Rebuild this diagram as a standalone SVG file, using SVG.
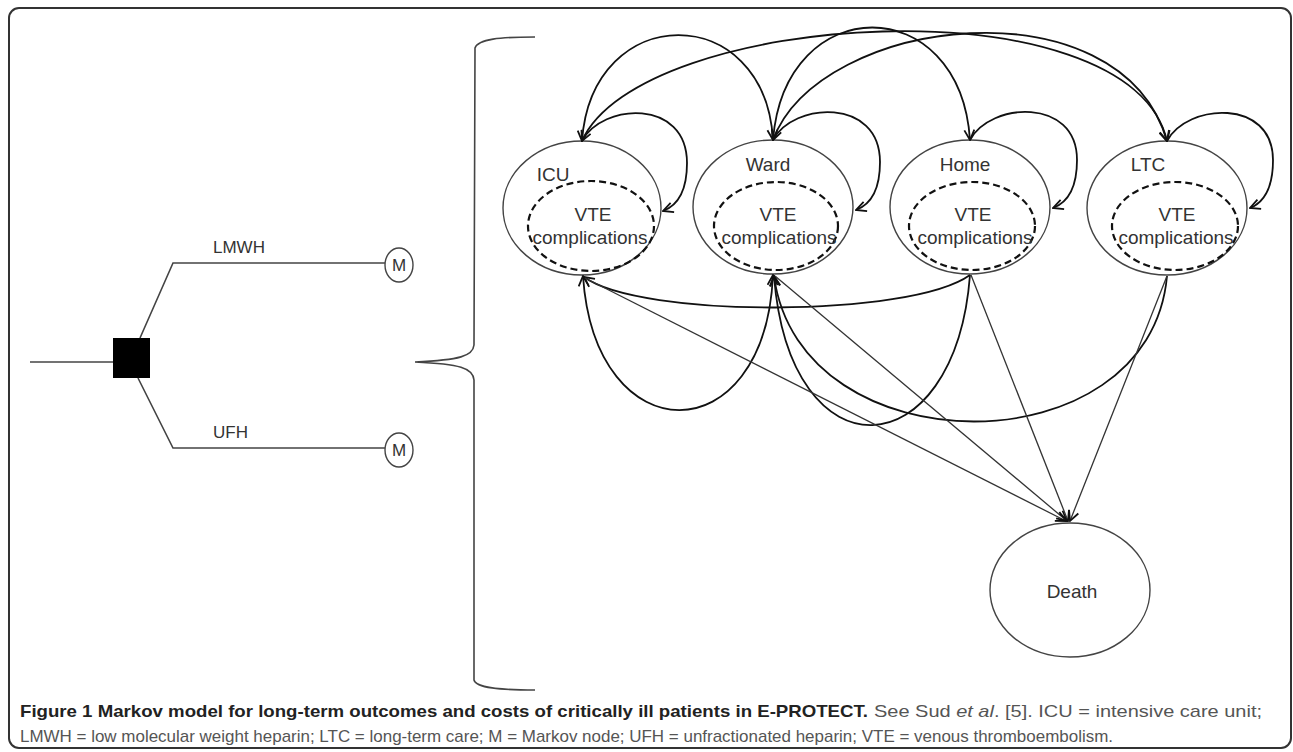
<svg xmlns="http://www.w3.org/2000/svg" width="1293" height="752" viewBox="0 0 1293 752">
<style>
.node{fill:none;stroke:#444;stroke-width:1.4}
.dash{fill:none;stroke:#111;stroke-width:2.2;stroke-dasharray:7 4}
.lbl{font-family:"Liberation Sans",Arial,sans-serif;font-size:19px;fill:#333;text-anchor:middle}
.tl{font-family:"Liberation Sans",Arial,sans-serif;font-size:17px;fill:#333}
.arc{fill:none;stroke:#111;stroke-width:1.8}
.ln{fill:none;stroke:#333;stroke-width:1.3}
.tree{fill:none;stroke:#444;stroke-width:1.6}
.cap{font-family:"Liberation Sans",Arial,sans-serif;font-size:17px}
</style>
<defs>
<marker id="arr" viewBox="0 0 12 12" refX="11" refY="6" markerWidth="12" markerHeight="12" markerUnits="userSpaceOnUse" orient="auto-start-reverse">
<path d="M1,1 L11,6 L1,11" fill="none" stroke="#111" stroke-width="1.8"/>
</marker>
</defs>
<rect x="9" y="8" width="1282" height="740" rx="10" fill="#fff" stroke="#333" stroke-width="2"/>

<g id="tree">
<path class="tree" d="M30,362 L113,362"/>
<rect x="113" y="338" width="37" height="40" fill="#000"/>
<path class="tree" d="M140,338 L173,263 L385,263"/>
<path class="tree" d="M138,378 L173,448 L385,448"/>
<text class="tl" x="213" y="253">LMWH</text>
<text class="tl" x="213" y="438">UFH</text>
</g>
<g id="m1"><ellipse class="node" cx="399" cy="265" rx="14" ry="17"/><text class="tl" x="399" y="271" text-anchor="middle">M</text></g>
<g id="m2"><ellipse class="node" cx="399" cy="450" rx="14" ry="17"/><text class="tl" x="399" y="456" text-anchor="middle">M</text></g>

<g id="brace">
<path class="tree" d="M535,37 C500,37 478,39 475,48 L474,345 C473,356 460,360 415,362 C460,364 473,368 474,380 L474,680 C476,688 500,690 535,690"/>
</g>

<g id="icu">
<ellipse class="node" cx="582" cy="208" rx="79" ry="67"/>
<ellipse class="dash" cx="591" cy="226" rx="63" ry="45"/>
<text class="lbl" x="553" y="181">ICU</text>
<text class="lbl" x="593" y="221">VTE</text>
<text class="lbl" x="590" y="244">complications</text>
</g>
<g id="ward">
<ellipse class="node" cx="773" cy="207" rx="80" ry="67"/>
<ellipse class="dash" cx="776" cy="226" rx="62" ry="44"/>
<text class="lbl" x="768" y="171">Ward</text>
<text class="lbl" x="778" y="221">VTE</text>
<text class="lbl" x="779" y="244">complications</text>
</g>
<g id="home">
<ellipse class="node" cx="970" cy="207" rx="80" ry="67"/>
<ellipse class="dash" cx="972" cy="226" rx="63" ry="44"/>
<text class="lbl" x="965" y="171">Home</text>
<text class="lbl" x="973" y="221">VTE</text>
<text class="lbl" x="975" y="244">complications</text>
</g>
<g id="ltc">
<ellipse class="node" cx="1167" cy="208" rx="80" ry="67"/>
<ellipse class="dash" cx="1175" cy="226" rx="63" ry="44"/>
<text class="lbl" x="1148" y="171">LTC</text>
<text class="lbl" x="1177" y="221">VTE</text>
<text class="lbl" x="1176" y="244">complications</text>
</g>
<g id="death">
<ellipse class="node" cx="1070" cy="590" rx="80" ry="67"/>
<text class="lbl" x="1072" y="598">Death</text>
</g>

<g id="connectors">
<!-- self loops -->
<path class="arc" marker-end="url(#arr)" d="M582,141 C602,103 687,98 687,163 C687,188 679,205 663,211"/>
<path class="arc" marker-end="url(#arr)" d="M773,140 C793,102 880,97 880,162 C880,187 872,204 856,210"/>
<path class="arc" marker-end="url(#arr)" d="M970,140 C990,102 1077,97 1077,160 C1077,185 1069,202 1053,208"/>
<path class="arc" marker-end="url(#arr)" d="M1167,141 C1187,103 1273,98 1273,160 C1273,185 1265,202 1250,208"/>
<!-- top arcs -->
<path class="arc" marker-start="url(#arr)" marker-end="url(#arr)" d="M582,141 C592,0 765,0 773,140"/>
<path class="arc" marker-end="url(#arr)" d="M773,140 C785,-10 960,-10 970,140"/>
<path class="arc" marker-start="url(#arr)" marker-end="url(#arr)" d="M582,141 C640,10 1130,-20 1167,141"/>
<path class="arc" marker-start="url(#arr)" marker-end="url(#arr)" d="M773,140 C820,15 1120,-20 1167,141"/>
<!-- bottom arcs -->
<path class="arc" marker-start="url(#arr)" marker-end="url(#arr)" d="M583,276 C595,455 765,455 773,275"/>
<path class="arc" marker-end="url(#arr)" d="M970,275 C910,318 640,318 584,277"/>
<path class="arc" marker-end="url(#arr)" d="M970,275 C955,470 790,480 774,276"/>
<path class="arc" marker-end="url(#arr)" d="M1167,276 C1150,470 800,470 774,276"/>
<!-- to death -->
<path class="ln" marker-end="url(#arr)" d="M585,278 L1066,521"/>
<path class="ln" marker-end="url(#arr)" d="M775,276 L1067,521"/>
<path class="ln" marker-end="url(#arr)" d="M971,275 L1068,521"/>
<path class="ln" marker-end="url(#arr)" d="M1167,276 L1070,521"/>
</g>

<g id="caption">
<text class="cap" x="20" y="717" font-weight="bold" fill="#222" textLength="848" lengthAdjust="spacingAndGlyphs">Figure 1 Markov model for long-term outcomes and costs of critically ill patients in E-PROTECT.</text>
<text class="cap" x="874" y="717" fill="#555" textLength="388" lengthAdjust="spacingAndGlyphs">See Sud <tspan font-style="italic">et al</tspan>. [5]. ICU = intensive care unit;</text>
<text class="cap" x="20" y="742" fill="#555" textLength="1093" lengthAdjust="spacingAndGlyphs">LMWH = low molecular weight heparin; LTC = long-term care; M = Markov node; UFH = unfractionated heparin; VTE = venous thromboembolism.</text>
</g>
</svg>
